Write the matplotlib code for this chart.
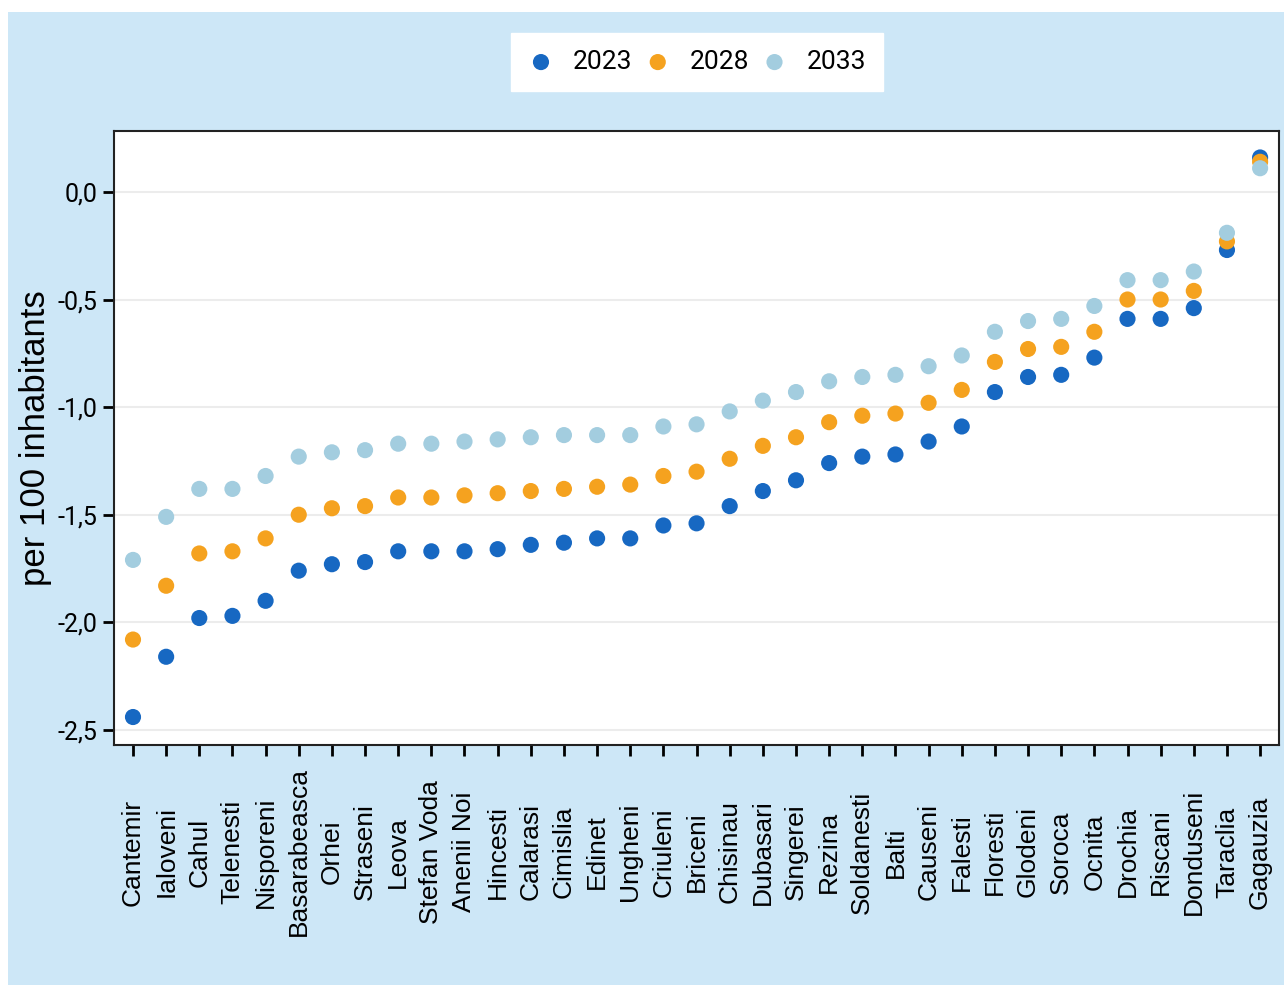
import matplotlib
matplotlib.use("Agg")
import matplotlib.pyplot as plt
from matplotlib.patches import Rectangle
from matplotlib.ticker import FuncFormatter

regions = ["Cantemir", "Ialoveni", "Cahul", "Telenesti", "Nisporeni", "Basarabeasca",
           "Orhei", "Straseni", "Leova", "Stefan Voda", "Anenii Noi", "Hincesti",
           "Calarasi", "Cimislia", "Edinet", "Ungheni", "Criuleni", "Briceni",
           "Chisinau", "Dubasari", "Singerei", "Rezina", "Soldanesti", "Balti",
           "Causeni", "Falesti", "Floresti", "Glodeni", "Soroca", "Ocnita",
           "Drochia", "Riscani", "Donduseni", "Taraclia", "Gagauzia"]

v2023 = [-2.44, -2.16, -1.98, -1.97, -1.90, -1.76, -1.73, -1.72, -1.67, -1.67,
         -1.67, -1.66, -1.64, -1.63, -1.61, -1.61, -1.55, -1.54, -1.46, -1.39,
         -1.34, -1.26, -1.23, -1.22, -1.16, -1.09, -0.93, -0.86, -0.85, -0.77,
         -0.59, -0.59, -0.54, -0.27, 0.16]
v2028 = [-2.08, -1.83, -1.68, -1.67, -1.61, -1.50, -1.47, -1.46, -1.42, -1.42,
         -1.41, -1.40, -1.39, -1.38, -1.37, -1.36, -1.32, -1.30, -1.24, -1.18,
         -1.14, -1.07, -1.04, -1.03, -0.98, -0.92, -0.79, -0.73, -0.72, -0.65,
         -0.50, -0.50, -0.46, -0.23, 0.14]
v2033 = [-1.71, -1.51, -1.38, -1.38, -1.32, -1.23, -1.21, -1.20, -1.17, -1.17,
         -1.16, -1.15, -1.14, -1.13, -1.13, -1.13, -1.09, -1.08, -1.02, -0.97,
         -0.93, -0.88, -0.86, -0.85, -0.81, -0.76, -0.65, -0.60, -0.59, -0.53,
         -0.41, -0.41, -0.37, -0.19, 0.11]
series_labels = ["2023", "2028", "2033"]
yticks = [0.0, -0.5, -1.0, -1.5, -2.0, -2.5]

colors = ["#1768c2", "#f5a21f", "#a3cddf"]

fig = plt.figure(figsize=(12.84, 9.85), dpi=100, facecolor="white")
fig.patches.append(Rectangle((8 / 1284, 0), 1, 1 - 12 / 985, transform=fig.transFigure,
                             facecolor="#cde7f7", edgecolor="none", zorder=-10))

ax = fig.add_axes([114 / 1284, 1 - 745 / 985, (1279 - 114) / 1284, (745 - 131) / 985])
ax.set_facecolor("white")

x = list(range(len(regions)))
for vals, c, lab in zip([v2023, v2028, v2033], colors, series_labels):
    ax.scatter(x, vals, s=135, color=c, label=lab, edgecolors="none", zorder=3)

ax.set_xlim(-0.573, 34.57)
ax.set_ylim(-2.57, 0.283)
ax.set_yticks(yticks)
ax.yaxis.set_major_formatter(FuncFormatter(lambda v, p: f"{v:.1f}".replace(".", ",")))
ax.grid(axis="y", color="#ececec", linewidth=1.5, zorder=0)
ax.set_axisbelow(True)

for s in ax.spines.values():
    s.set_color("#222222")
    s.set_linewidth(1.5)

ax.tick_params(axis="y", length=8, width=2, color="black", labelsize=18, pad=4)
for t in ax.get_yticklabels():
    t.set_fontfamily(["Roboto", "DejaVu Sans"])

ax.set_xticks(x)
ax.set_xticklabels(regions, rotation=90, va="center", ha="center",
                   fontfamily=["Liberation Sans", "DejaVu Sans"], fontsize=19)
ax.tick_params(axis="x", length=8, width=2, color="black", pad=69)

ax.set_ylabel("per 100 inhabitants", fontsize=25, fontfamily=["Liberation Sans", "DejaVu Sans"])
ax.yaxis.set_label_coords(-62 / 1165, 0.5)

leg = fig.legend(loc="center", bbox_to_anchor=(697 / 1284, 1 - 62 / 985), ncol=3,
                 frameon=True, fancybox=False, edgecolor="white", facecolor="white",
                 prop={"family": ["Roboto", "DejaVu Sans"], "size": 19},
                 handlelength=1.0, handletextpad=0.72, columnspacing=0.45,
                 borderpad=0.65, markerscale=1.0)
leg.get_frame().set_alpha(1)

fig.savefig("out.png", dpi=100, facecolor=fig.get_facecolor())
